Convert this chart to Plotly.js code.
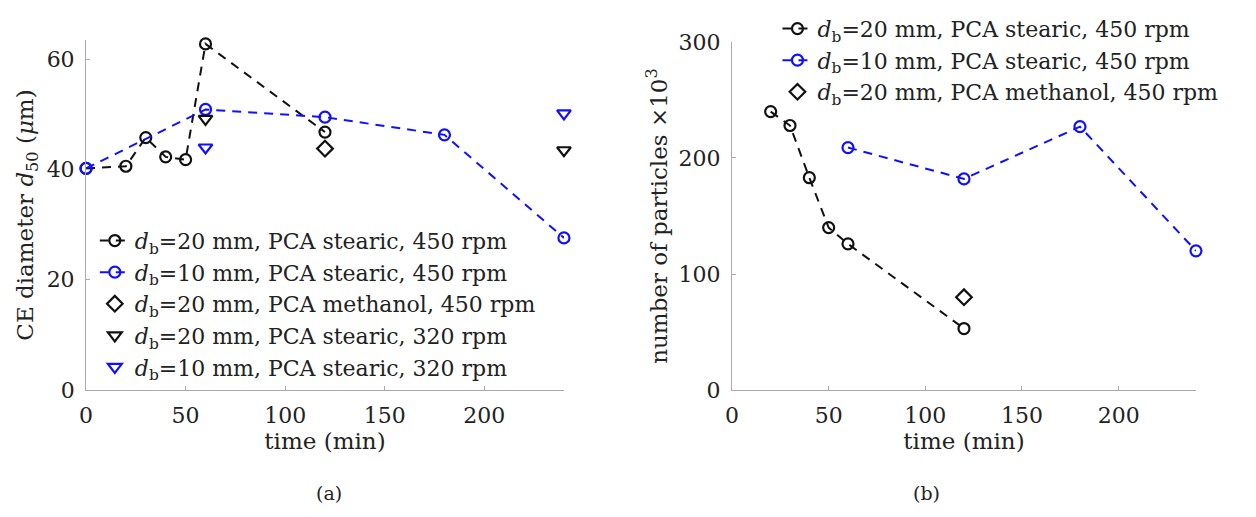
<!DOCTYPE html>
<html><head><meta charset="utf-8">
<script src="https://cdn.plot.ly/plotly-3.0.1.min.js"></script>
<style>html,body{margin:0;padding:0;background:#fff}#chart{width:1256px;height:517px}</style>
</head><body><div id="chart"></div>
<script>
// (a) CE diameter d50 (µm) vs time (min)
const tA_b20_450 = [0, 20, 30, 40, 50, 60, 120];
const dA_b20_450 = [40.2, 40.6, 45.8, 42.3, 41.8, 62.8, 46.8];
const tA_b10_450 = [0, 60, 120, 180, 240];
const dA_b10_450 = [40.2, 50.9, 49.5, 46.3, 27.6];
const tA_b20_meth = [120];
const dA_b20_meth = [43.8];
const tA_b20_320 = [60, 240];
const dA_b20_320 = [49.2, 43.5];
const tA_b10_320 = [60, 240];
const dA_b10_320 = [44.0, 50.2];
// (b) number of particles x10^3 vs time (min)
const tB_b20_450 = [20, 30, 40, 50, 60, 120];
const nB_b20_450 = [240, 228, 183, 140, 126, 53];
const tB_b10_450 = [60, 120, 180, 240];
const nB_b10_450 = [209, 182, 227, 120];
const tB_b20_meth = [120];
const nB_b20_meth = [80];

const labels = [
  '<i>d</i><sub>b</sub>=20 mm, PCA stearic, 450 rpm',
  '<i>d</i><sub>b</sub>=10 mm, PCA stearic, 450 rpm',
  '<i>d</i><sub>b</sub>=20 mm, PCA methanol, 450 rpm',
  '<i>d</i><sub>b</sub>=20 mm, PCA stearic, 320 rpm',
  '<i>d</i><sub>b</sub>=10 mm, PCA stearic, 320 rpm'
];
const BLK = '#111111', BLU = '#1010ff';
const FONT = 'DejaVu Serif';
const TXT = '#222222';

function lineTrace(x, y, c, name, xa, ya, lg) {
  return {x, y, name, xaxis: xa, yaxis: ya, legend: lg, type: 'scatter', mode: 'lines+markers', cliponaxis: false,
    line: {color: c, width: 2, dash: '9px,7px'},
    marker: {symbol: 'circle-open', size: 11, color: c, line: {color: c, width: 2.2}}};
}
function markTrace(x, y, c, sym, name, xa, ya, lg) {
  return {x, y, name, xaxis: xa, yaxis: ya, legend: lg, type: 'scatter', mode: 'markers', cliponaxis: false,
    marker: {symbol: sym, size: 12, color: c, line: {color: c, width: 2.2}}};
}

const data = [
  lineTrace(tA_b20_450, dA_b20_450, BLK, labels[0], 'x', 'y', 'legend'),
  lineTrace(tA_b10_450, dA_b10_450, BLU, labels[1], 'x', 'y', 'legend'),
  markTrace(tA_b20_meth, dA_b20_meth, BLK, 'diamond-open', labels[2], 'x', 'y', 'legend'),
  markTrace(tA_b20_320, dA_b20_320, BLK, 'triangle-down-open', labels[3], 'x', 'y', 'legend'),
  markTrace(tA_b10_320, dA_b10_320, BLU, 'triangle-down-open', labels[4], 'x', 'y', 'legend'),
  lineTrace(tB_b20_450, nB_b20_450, BLK, labels[0], 'x2', 'y2', 'legend2'),
  lineTrace(tB_b10_450, nB_b10_450, BLU, labels[1], 'x2', 'y2', 'legend2'),
  markTrace(tB_b20_meth, nB_b20_meth, BLK, 'diamond-open', labels[2], 'x2', 'y2', 'legend2')
];

const tickF = {family: FONT, size: 22, color: TXT};
const titleF = {family: FONT, size: 23, color: TXT};
const legF = {family: FONT, size: 22, color: TXT};
const axBase = {showgrid: false, zeroline: false, showline: true, linecolor: '#aaaaaa', linewidth: 1,
  ticks: 'inside', ticklen: 4, tickcolor: '#aaaaaa', tickfont: tickF, mirror: false, fixedrange: true};

const layout = {
  width: 1256, height: 517, margin: {l: 0, r: 0, t: 0, b: 0},
  paper_bgcolor: '#fff', plot_bgcolor: '#fff',
  font: {family: FONT, size: 22, color: TXT},
  xaxis: Object.assign({}, axBase, {domain: [0.0685, 0.449], range: [0, 240], tickvals: [0, 50, 100, 150, 200],
    ticklabelstandoff: 6, title: {text: 'time (min)', font: titleF, standoff: 2}, anchor: 'y'}),
  yaxis: Object.assign({}, axBase, {domain: [0.2456, 0.9226], range: [0, 63.5], tickvals: [0, 20, 40, 60],
    ticklabelstandoff: 6, title: {text: 'CE diameter <i>d</i><sub>50</sub> (<i>μ</i>m)', font: titleF, standoff: 6}, anchor: 'x'}),
  xaxis2: Object.assign({}, axBase, {domain: [0.5828, 0.9522], range: [0, 240], tickvals: [0, 50, 100, 150, 200],
    ticklabelstandoff: 6, title: {text: 'time (min)', font: titleF, standoff: 2}, anchor: 'y2'}),
  yaxis2: Object.assign({}, axBase, {domain: [0.2456, 0.9188], range: [0, 300], tickvals: [0, 100, 200, 300],
    ticklabelstandoff: 6, title: {text: 'number of particles ×10<sup>3</sup>', font: titleF, standoff: 4}, anchor: 'x2'}),
  legend: {x: 0.0755, y: 0.575, xanchor: 'left', yanchor: 'top', bgcolor: 'rgba(0,0,0,0)',
    font: legF, itemwidth: 30, tracegroupgap: 0},
  legend2: {x: 0.619, y: 0.985, xanchor: 'left', yanchor: 'top', bgcolor: 'rgba(0,0,0,0)',
    font: legF, itemwidth: 30, tracegroupgap: 0},
  annotations: [
    {text: '(a)', xref: 'paper', yref: 'paper', x: 0.25, y: 0.022, showarrow: false, font: {family: FONT, size: 19, color: TXT}},
    {text: '(b)', xref: 'paper', yref: 'paper', x: 0.75, y: 0.022, showarrow: false, font: {family: FONT, size: 19, color: TXT}}
  ],
  showlegend: true
};

Plotly.newPlot('chart', data, layout, {displayModeBar: false});
</script></body></html>
